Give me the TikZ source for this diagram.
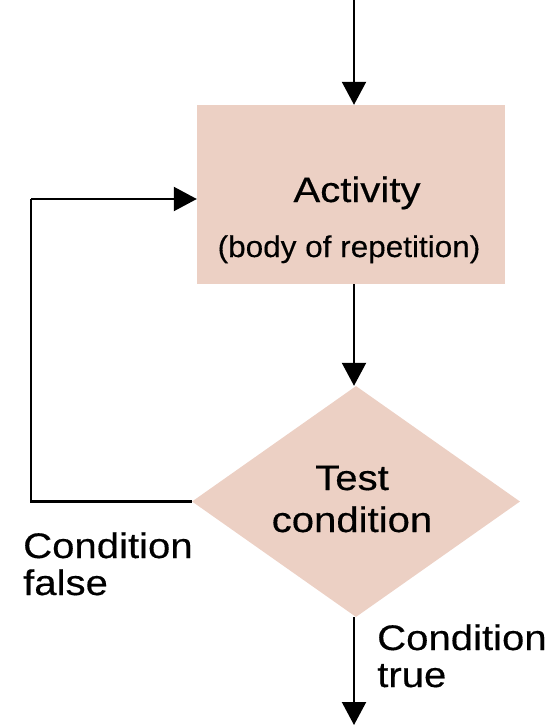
\documentclass[tikz,border=0pt]{standalone}
\usepackage{fontspec}
\setmainfont{Liberation Sans}[FakeStretch=1.13,FakeBold=0.4]
\newfontfamily\bodyfont{Liberation Sans}[FakeStretch=1.05,FakeBold=0.3]
\usetikzlibrary{shapes.geometric,arrows.meta,calc}
\definecolor{boxfill}{RGB}{236,208,196}
\tikzset{
  arr/.style={line width=2.2pt,-{Triangle[length=23pt,width=24pt]}},
  plain/.style={line width=2.2pt},
  bigtext/.style={font=\fontsize{35.5}{40}\selectfont,inner sep=0pt,anchor=base},
  smalltext/.style={font=\bodyfont\fontsize{30}{34}\selectfont,inner sep=0pt,anchor=base},
}
\begin{document}
\begin{tikzpicture}[x=1pt,y=-1pt]
\useasboundingbox (0,0) rectangle (550,725);
\node[fill=boxfill,minimum width=308pt,minimum height=179pt,inner sep=0pt] (box) at (351,194.5) {};
\node[diamond,fill=boxfill,minimum width=328pt,minimum height=231pt,inner sep=0pt] (d) at (356,501.5) {};
\node[bigtext] (act) at (357,202) {Activity};
\node[smalltext] (body) at (349,257) {(body of repetition)};
\node[bigtext] (test) at (352,490) {Test};
\node[bigtext] (cond) at (352,532) {condition};
\node[bigtext,anchor=base west] (cf1) at (23,558) {Condition};
\node[bigtext,anchor=base west] (cf2) at (23,595) {false};
\node[bigtext,anchor=base west] (ct1) at (377,650) {Condition};
\node[bigtext,anchor=base west] (ct2) at (377,687) {true};
\coordinate (top) at (354,0);
\coordinate (bot) at (354,725);
\coordinate (lp) at (31,199);
\draw[arr] (top) -- (top |- box.north);
\draw[arr] (top |- box.south) -- (top |- d.north);
\draw[arr] (top |- d.south) -- (bot);
\draw[plain] (d.west) -| (lp);
\draw[arr] (lp) -- (lp -| box.west);
\end{tikzpicture}
\end{document}
